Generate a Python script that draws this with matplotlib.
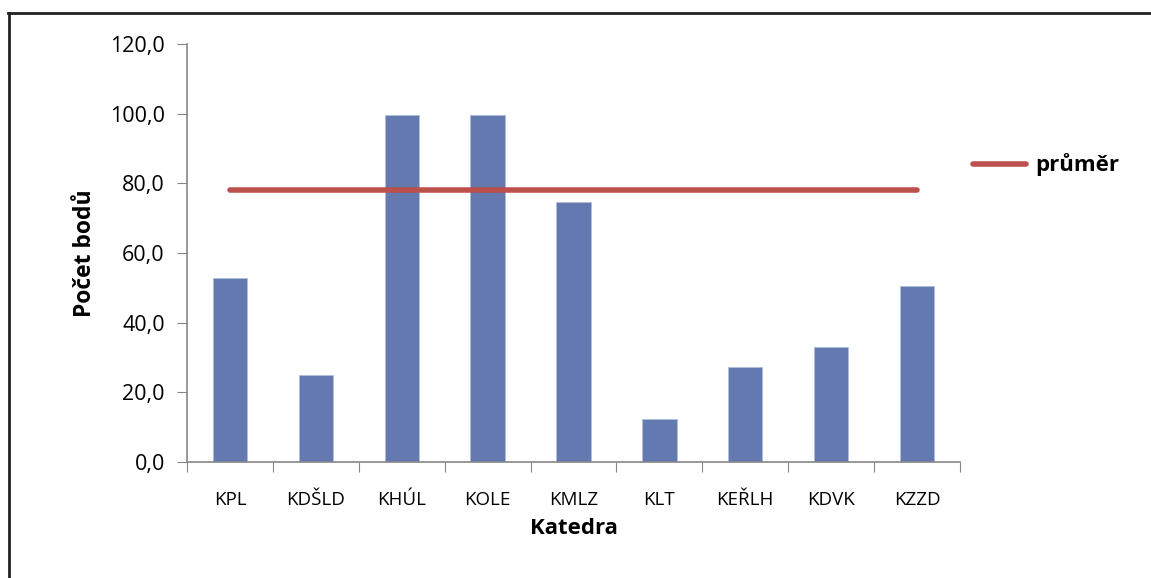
import matplotlib.pyplot as plt
from matplotlib.lines import Line2D

plt.rcParams['font.family'] = ['Open Sans', 'DejaVu Sans']

# data
katedry = ['KPL', 'KDŠLD', 'KHÚL', 'KOLE', 'KMLZ', 'KLT', 'KEŘLH', 'KDVK', 'KZZD']
body = [52.8, 25.1, 99.6, 99.6, 74.6, 12.4, 27.3, 33.1, 50.5]
prumer = [78.1] * len(katedry)
yticks = [0, 20, 40, 60, 80, 100, 120]

fig = plt.figure(figsize=(11.51, 5.78), dpi=100)
ax = fig.add_axes([187 / 1151, 1 - 462 / 578, 773 / 1151, 418 / 578])

x = range(len(katedry))
ax.bar(x, body, width=0.4, color='#6479b0', edgecolor='#aebde0', linewidth=0.6, zorder=2)
ax.plot(x, prumer, color='#bb504d', linewidth=4, solid_capstyle='round', zorder=3)

ax.set_xlim(-0.5, len(katedry) - 0.5)
ax.set_ylim(0, 120)
ax.set_yticks(yticks)
ax.yaxis.set_major_formatter(plt.FuncFormatter(lambda v, p: ('%.1f' % v).replace('.', ',')))
ax.set_xticks([i + 0.5 for i in range(-1, len(katedry))], minor=False)
ax.set_xticklabels([])
ax.set_xticks(list(x), minor=True)
ax.set_xticklabels(katedry, minor=True)

for s in ['top', 'right']:
    ax.spines[s].set_visible(False)
for s in ['left', 'bottom']:
    ax.spines[s].set_color('#868686')
    ax.spines[s].set_linewidth(1.2)
ax.tick_params(axis='y', which='major', direction='out', length=7, color='#868686',
               labelsize=15.5, pad=9)
ax.tick_params(axis='x', which='major', direction='out', length=7, color='#868686')
ax.tick_params(axis='x', which='minor', length=0, labelsize=13.5, pad=21)

ax.set_xlabel('Katedra', fontsize=16, fontweight='bold', labelpad=6)
ax.set_ylabel('Počet bodů', fontsize=16.5, fontweight='bold', labelpad=9)

# legend on the right
leg = fig.legend([Line2D([0], [0], color='#bb504d', linewidth=4, solid_capstyle='round')],
                 ['průměr'], loc='center left', bbox_to_anchor=(953 / 1151, 1 - 165 / 578),
                 frameon=False, handlelength=2.4, handletextpad=0.4,
                 prop={'size': 16, 'weight': 'bold'})

# frame around the chart (right and bottom edges fall outside the picture)
fig.add_artist(Line2D([8 / 1151, 1.0], [1 - 13 / 578] * 2, color='#222222', linewidth=2,
                      transform=fig.transFigure))
fig.add_artist(Line2D([9 / 1151] * 2, [0.0, 1 - 13 / 578], color='#222222', linewidth=2,
                      transform=fig.transFigure))

fig.savefig('out.png', dpi=100)
